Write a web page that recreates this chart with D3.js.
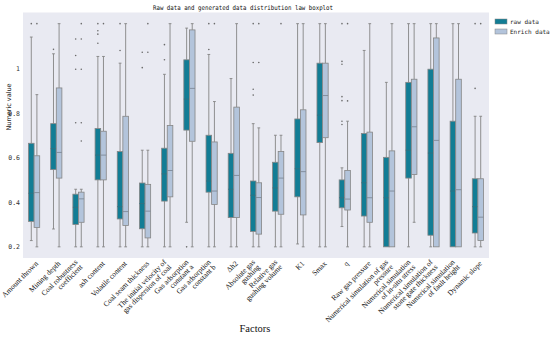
<!DOCTYPE html>
<html>
<head>
<meta charset="utf-8">
<script src="https://cdn.jsdelivr.net/npm/d3@7"></script>
<style>
  html, body { margin: 0; padding: 0; background: #ffffff; }
  svg { display: block; }
</style>
</head>
<body>
<svg id="chart" width="550" height="337"></svg>
<script>
// ---------------- data ----------------
const categories = [
  "Amount thrown", "Mining depth", "Coal robustness\ncoefficient", "ash content",
  "Volatile content", "Coal seam thickness", "The initial velocity of\ngas dispersion of coal",
  "Gas adsorption\nconstant a", "Gas adsorption\nconstant b", "Δh2",
  "Absolute gas\ngushing", "Relative gas\ngushing volume", "K1", "Smax", "q",
  "Raw gas pressure", "Numerical simulation of gas\npressure",
  "Numerical simulation\nof in-situ stress", "Numerical simulation of\nstone gate thickness",
  "Numerical simulation\nof fault height", "Dynamic slope"
];
const seriesNames = ["raw data", "Enrich data"];

// raw data box statistics
const rawLo  = [0.228, 0.28, 0.2, 0.2, 0.2, 0.2, 0.2, 0.31, 0.2, 0.2, 0.2, 0.2, 0.213, 0.2, 0.291, 0.2, 0.2, 0.2, 0.2, 0.2, 0.2];
const rawQ1  = [0.314, 0.546, 0.30, 0.50, 0.325, 0.281, 0.405, 0.723, 0.445, 0.331, 0.269, 0.36, 0.424, 0.667, 0.375, 0.338, 0.2, 0.508, 0.252, 0.2, 0.262];
const rawMed = [0.44, 0.64, 0.377, 0.611, 0.38, 0.394, 0.527, 0.862, 0.495, 0.458, 0.431, 0.464, 0.55, 0.79, 0.42, 0.487, 0.42, 0.633, 0.62, 0.45, 0.38];
const rawQ3  = [0.664, 0.752, 0.436, 0.730, 0.627, 0.486, 0.642, 1.038, 0.70, 0.619, 0.495, 0.579, 0.773, 1.023, 0.50, 0.708, 0.601, 0.937, 0.996, 0.763, 0.505];
const rawHi  = [1.14, 1.065, 0.458, 1.053, 1.023, 0.633, 0.973, 1.18, 1.062, 0.954, 0.752, 0.70, 1.2, 1.2, 0.554, 1.08, 0.937, 1.2, 1.2, 1.2, 0.785];
const rawOut = [
  [1.2], [1.085], [1.131, 1.057, 0.996, 0.756], [1.2, 1.168, 1.153, 1.112],
  [1.2, 1.08], [1.072, 1.003], [1.106, 1.038], [0.2], [1.2, 1.084], [],
  [1.2, 1.026, 0.906, 0.88], [], [], [], [1.2, 1.031, 1.018, 0.873, 0.855, 0.763, 0.748],
  [], [], [], [], [], [1.2, 0.91]
];

// enriched data box statistics
const enrLo  = [0.2, 0.2, 0.2, 0.2, 0.2, 0.2, 0.2, 0.2, 0.2, 0.2, 0.2, 0.2, 0.2, 0.2, 0.2, 0.2, 0.2, 0.31, 0.2, 0.2, 0.2];
const enrQ1  = [0.287, 0.508, 0.31, 0.50, 0.296, 0.24, 0.424, 0.673, 0.39, 0.331, 0.257, 0.346, 0.343, 0.689, 0.365, 0.31, 0.2, 0.524, 0.2, 0.2, 0.228];
const enrMed = [0.443, 0.623, 0.415, 0.611, 0.358, 0.36, 0.542, 0.91, 0.45, 0.52, 0.421, 0.508, 0.537, 0.878, 0.414, 0.42, 0.45, 0.738, 0.677, 0.456, 0.333];
const enrQ3  = [0.608, 0.912, 0.445, 0.718, 0.785, 0.48, 0.744, 1.172, 0.67, 0.826, 0.487, 0.627, 0.814, 1.023, 0.542, 0.714, 0.63, 0.951, 1.136, 0.951, 0.505];
const enrHi  = [0.882, 1.2, 0.458, 1.053, 1.2, 0.633, 1.2, 1.2, 0.851, 1.2, 0.733, 0.70, 1.2, 1.2, 0.763, 1.2, 1.2, 1.2, 1.2, 1.2, 0.785];
const enrOut = [
  [1.2], [], [1.2, 1.131, 0.996, 0.756, 0.674], [1.2],
  [], [1.2, 1.072], [], [], [1.2], [],
  [1.2, 1.026], [1.2], [], [], [1.2, 0.854],
  [], [], [], [], [], [1.2]
];

const yTicks = [0.2, 0.4, 0.6, 0.8, 1];
const yTickLabels = ["0.2", "0.4", "0.6", "0.8", "1"];

// ---------------- layout ----------------
const svg = d3.select("#chart");
const plot = { left: 23, right: 489, top: 12.5, bottom: 258 };
const colors = { raw: "#127d95", enr: "#b3c4db", bg: "#e9eaf2", line: "#858585" };

const x = d3.scaleBand().domain(categories).range([plot.left, plot.right]).padding(0);
const bw = x.bandwidth();
const boxW = 5.6;
const sub = d3.scaleBand().domain(seriesNames).range([bw / 2 - boxW, bw / 2 + boxW]).padding(0);
const y = d3.scaleLinear().domain([0.15, 1.25]).range([plot.bottom, plot.top]);

svg.append("rect")
  .attr("x", plot.left).attr("y", plot.top)
  .attr("width", plot.right - plot.left).attr("height", plot.bottom - plot.top)
  .attr("fill", colors.bg);

// y axis
const yAxis = d3.axisLeft(y).tickValues(yTicks).tickFormat((d, i) => yTickLabels[i]).tickSize(0).tickPadding(3);
const yg = svg.append("g").attr("transform", `translate(${plot.left},0)`).call(yAxis);
yg.select(".domain").remove();
yg.selectAll("text").attr("font-family", "DejaVu Sans Mono").attr("font-size", 6.5).attr("fill", "#333");

// boxes
const series = [
  { name: seriesNames[0], lo: rawLo, q1: rawQ1, med: rawMed, q3: rawQ3, hi: rawHi, out: rawOut, fill: colors.raw, medColor: "#2f7282" },
  { name: seriesNames[1], lo: enrLo, q1: enrQ1, med: enrMed, q3: enrQ3, hi: enrHi, out: enrOut, fill: colors.enr, medColor: "#7f8a99" }
];
const capW = 2.8;
series.forEach(s => {
  const g = svg.append("g");
  categories.forEach((c, i) => {
    const x0 = x(c) + sub(s.name);
    const xc = x0 + sub.bandwidth() / 2;
    // whiskers
    if (s.lo[i] < s.q1[i]) {
      g.append("line").attr("x1", xc).attr("x2", xc).attr("y1", y(s.q1[i])).attr("y2", y(s.lo[i]))
        .attr("stroke", colors.line).attr("stroke-width", 0.9);
      g.append("line").attr("x1", xc - capW / 2).attr("x2", xc + capW / 2).attr("y1", y(s.lo[i])).attr("y2", y(s.lo[i]))
        .attr("stroke", colors.line).attr("stroke-width", 0.9);
    }
    if (s.hi[i] > s.q3[i]) {
      g.append("line").attr("x1", xc).attr("x2", xc).attr("y1", y(s.q3[i])).attr("y2", y(s.hi[i]))
        .attr("stroke", colors.line).attr("stroke-width", 0.9);
      g.append("line").attr("x1", xc - capW / 2).attr("x2", xc + capW / 2).attr("y1", y(s.hi[i])).attr("y2", y(s.hi[i]))
        .attr("stroke", colors.line).attr("stroke-width", 0.9);
    }
    // box
    g.append("rect").attr("x", x0).attr("width", sub.bandwidth())
      .attr("y", y(s.q3[i])).attr("height", y(s.q1[i]) - y(s.q3[i]))
      .attr("fill", s.fill).attr("stroke", colors.line).attr("stroke-width", 0.8);
    // median
    g.append("line").attr("x1", x0).attr("x2", x0 + sub.bandwidth())
      .attr("y1", y(s.med[i])).attr("y2", y(s.med[i]))
      .attr("stroke", s.medColor).attr("stroke-width", 0.9);
    // fliers
    g.selectAll(null).data(s.out[i]).enter().append("circle")
      .attr("cx", xc).attr("cy", d => y(d)).attr("r", 0.8).attr("fill", "#6a6a6a");
  });
});

// x labels
const lh = 7;
categories.forEach(c => {
  const lines = c.split("\n");
  const n = lines.length;
  const tx = x(c) + bw / 2 + 4.5;
  const ty = 264 + 3.5 * (n - 1);
  const g = svg.append("g").attr("transform", `translate(${tx},${ty}) rotate(-45)`);
  lines.forEach((ln, j) => {
    g.append("text").attr("x", 0).attr("y", -(n - 1 - j) * lh)
      .attr("text-anchor", "end")
      .attr("font-family", "Liberation Serif").attr("font-size", 7.5).attr("fill", "#111")
      .text(ln);
  });
});

// axis titles
svg.append("text").attr("x", 255).attr("y", 332).attr("text-anchor", "middle")
  .attr("font-family", "Liberation Serif").attr("font-size", 10.5).attr("fill", "#111").text("Factors");
svg.append("text").attr("transform", "translate(11,107) rotate(-90)").attr("text-anchor", "middle")
  .attr("font-family", "DejaVu Sans").attr("font-size", 6.5).attr("fill", "#222").text("Numeric value");
svg.append("text").attr("x", 243).attr("y", 9.5).attr("text-anchor", "middle")
  .attr("font-family", "DejaVu Sans Mono").attr("font-size", 6.5).attr("fill", "#111")
  .attr("textLength", 180).attr("lengthAdjust", "spacingAndGlyphs")
  .text("Raw data and generated data distribution law boxplot");

// legend
const lg = svg.append("g").attr("transform", "translate(495,19)");
series.forEach((s, i) => {
  lg.append("rect").attr("x", 0).attr("y", i * 10).attr("width", 12).attr("height", 5)
    .attr("fill", s.fill).attr("stroke", colors.line).attr("stroke-width", 0.5);
  lg.append("text").attr("x", 15).attr("y", i * 10 + 4.8)
    .attr("font-family", "DejaVu Sans Mono").attr("font-size", 6).attr("fill", "#222").text(s.name);
});
</script>
</body>
</html>
